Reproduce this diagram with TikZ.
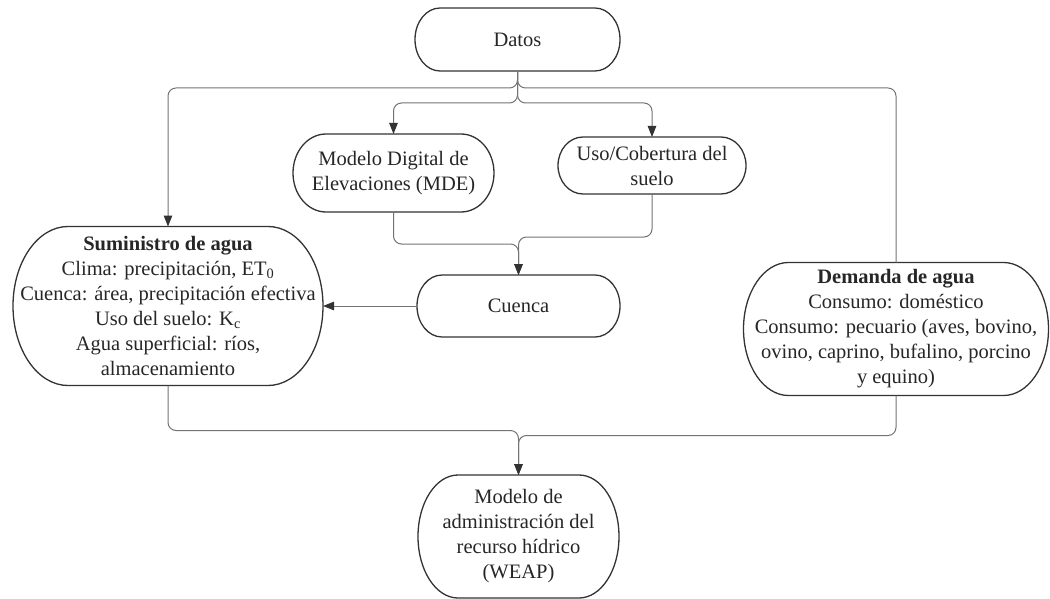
\documentclass[tikz,border=0pt]{standalone}
\usepackage{fontspec}
\setmainfont{Liberation Serif}
\usetikzlibrary{calc,arrows.meta}
\tikzset{
  boxtext/.style={inner sep=0pt,outer sep=0pt,align=center,
    font=\fontsize{20.5}{25}\selectfont,text=black!85},
  boxline/.style={draw=black!80,line width=1.3pt},
  conn/.style={draw=black!55,line width=1pt,rounded corners=8pt},
  arr/.style={conn,-{Triangle[length=11pt,width=8.5pt,color=black!80]}}
}
\newcommand\termbox[7]{%
  \node[boxtext,minimum width=#4pt,minimum height=#5pt] (#1) at (#2,#3) {#7};
  \draw[boxline] ($(#1.north west)+(#6,0)$) -- ($(#1.north east)+(-#6,0)$)
    arc[start angle=90,end angle=-90,x radius=#6pt,y radius={#5pt/2}]
    -- ($(#1.south west)+(#6,0)$)
    arc[start angle=270,end angle=90,x radius=#6pt,y radius={#5pt/2}] -- cycle;}
\begin{document}
\begin{tikzpicture}[x=1pt,y=-1pt]
\useasboundingbox (0,0) rectangle (1050,599);
\termbox{datos}{517.5}{39.5}{205}{63}{25}{Datos}
\termbox{mde}{393.5}{173}{201}{78}{33}{Modelo Digital de\\Elevaciones (MDE)}
\termbox{uso}{652}{165.5}{188}{57}{25}{Uso/Cobertura del\\suelo}
\termbox{cuenca}{518.5}{306}{203}{62}{25}{Cuenca}
\termbox{sum}{168}{306}{310}{159}{55}{{\bfseries Suministro de agua}\\Clima: precipitación, ET\textsubscript{0}\\Cuenca: área, precipitación efectiva\\Uso del suelo: K\textsubscript{c}\\Agua superficial: ríos,\\almacenamiento}
\termbox{dem}{896}{329}{305}{133}{45}{{\bfseries Demanda de agua}\\Consumo: doméstico\\Consumo: pecuario (aves, bovino,\\ovino, caprino, bufalino, porcino\\y equino)}
\termbox{weap}{518.5}{536.5}{201}{123}{40}{Modelo de\\administración del\\recurso hídrico\\(WEAP)}

\draw[arr] (datos.south) -- ++(0,17) -| (sum.north);
\draw[conn] (datos.south) -- ++(0,17) -| (dem.north);
\draw[arr] (datos.south) -- ++(0,32) -| (mde.north);
\draw[arr] (datos.south) -- ++(0,32) -| (uso.north);
\draw[arr] (mde.south) -- ++(0,32) -| (cuenca.north);
\draw[arr] (uso.south) -- ++(0,43) -| (cuenca.north);
\draw[arr] (cuenca.west) -- (cuenca.west -| sum.east);
\draw[arr] (sum.south) -- ++(0,45) -| (weap.north);
\draw[arr] (dem.south) -- ++(0,40) -| (weap.north);
\end{tikzpicture}
\end{document}
